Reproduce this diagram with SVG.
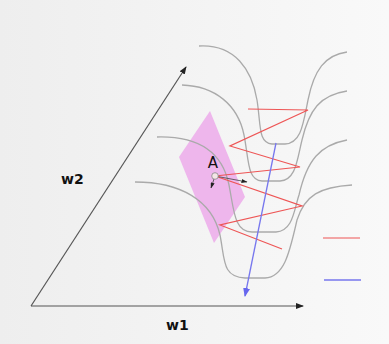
<svg xmlns="http://www.w3.org/2000/svg" width="389" height="344" viewBox="0 0 389 344">
<defs>
<linearGradient id="bg" x1="0" y1="0" x2="1" y2="0">
<stop offset="0" stop-color="#eeeeee"/>
<stop offset="1" stop-color="#f9f9f9"/>
</linearGradient>
<marker id="ak" markerWidth="8" markerHeight="6" refX="7" refY="3" orient="auto" markerUnits="userSpaceOnUse">
<path d="M0,0 L8,3 L0,6 z" fill="#222"/>
</marker>
<marker id="as" markerWidth="6" markerHeight="4" refX="5.5" refY="2" orient="auto" markerUnits="userSpaceOnUse">
<path d="M0,0 L6,2 L0,4 z" fill="#222"/>
</marker>
<marker id="ab" markerWidth="9" markerHeight="7" refX="8" refY="3.5" orient="auto" markerUnits="userSpaceOnUse">
<path d="M0,0 L9,3.5 L0,7 z" fill="#6666ee"/>
</marker>
<style>
.c{fill:none;stroke:#aaaaaa;stroke-width:1.3}
.ax{fill:none;stroke:#555;stroke-width:1.2}
.lbl{font-family:"DejaVu Sans",sans-serif;font-weight:bold;font-size:14px;fill:#111}
.red{fill:none;stroke:#ee5555;stroke-width:1.2}
.blue{fill:none;stroke:#7777ee;stroke-width:1.3}
</style>
</defs>
<rect x="0" y="0" width="389" height="344" fill="url(#bg)"/>
<g id="axes">
<line class="ax" x1="31" y1="306" x2="186" y2="67" marker-end="url(#ak)"/>
<line class="ax" x1="31" y1="306" x2="303" y2="306" marker-end="url(#ak)"/>
<text class="lbl" x="61" y="184">w2</text>
<text class="lbl" x="166" y="330">w1</text>
</g>
<g id="plane">
<polygon points="210,111 179,157 214,243 245,197" fill="#eeb6ec"/>
</g>
<g id="contours">
<path class="c" d="M199,46 C235,44 252,70 257,100 C261,125 258,143 272,144 L285,144 C301,143 303,125 308,100 C314,70 325,55 347,52"/>
<path class="c" d="M182,85 C215,86 238,105 244,135 C249,160 247,180 262,181 L280,181 C296,180 297,160 302,140 C309,110 320,95 347,91"/>
<path class="c" d="M157,137 C195,136 222,150 229,185 C234,210 234,232 252,232 L276,232 C293,231 294,210 299,195 C307,160 320,145 347,140"/>
<path class="c" d="M135,182 C180,182 212,200 220,235 C225,260 222,277 245,278 L265,278 C285,277 290,250 297,220 C305,195 320,187 352,185"/>
</g>
<g id="connectors">
<polyline class="red" points="248,109 308,110 230,146 300,167 215,176 302,206 220,225 282,249"/>
<line class="blue" x1="276" y1="143" x2="245" y2="296" marker-end="url(#ab)"/>
<line x1="215" y1="176" x2="247" y2="182" stroke="#444" stroke-width="0.8" marker-end="url(#as)"/>
<line x1="215" y1="176" x2="211" y2="188" stroke="#444" stroke-width="0.8" marker-end="url(#as)"/>
</g>
<g id="pointA">
<circle cx="215" cy="176" r="3.3" fill="#f3e6e6" stroke="#888" stroke-width="0.8"/>
<text x="213" y="168" text-anchor="middle" font-family="DejaVu Sans,sans-serif" font-size="15" fill="#111">A</text>
</g>
<g id="legend">
<line x1="323" y1="238" x2="360" y2="238" stroke="#ee5555" stroke-width="1.2"/>
<line x1="324" y1="280" x2="361" y2="280" stroke="#7777ee" stroke-width="1.3"/>
</g>
</svg>
